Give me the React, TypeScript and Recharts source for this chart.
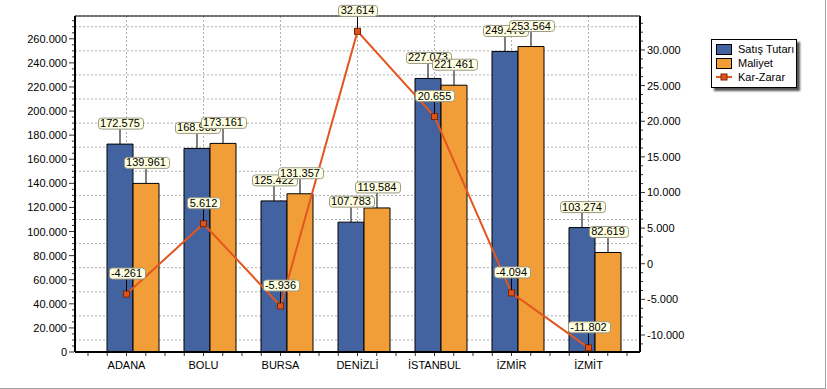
import React from 'react';
import {
  ComposedChart,
  Bar,
  Line,
  XAxis,
  YAxis,
  CartesianGrid,
  LabelList,
  ReferenceLine,
} from 'recharts';

// =============================================================================
// Data
// =============================================================================

const cities = ['ADANA', 'BOLU', 'BURSA', 'DENİZLİ', 'İSTANBUL', 'İZMİR', 'İZMİT'];
const satisTutari = [172575, 168988, 125422, 107783, 227073, 249478, 103274];
const maliyet = [139961, 173161, 131357, 119584, 221461, 253564, 82619];
const karZarar = [-4261, 5612, -5936, 32614, 20655, -4094, -11802];

const leftTicks = [
  0, 20000, 40000, 60000, 80000, 100000, 120000, 140000,
  160000, 180000, 200000, 220000, 240000, 260000,
];
const rightTicks = [-10000, -5000, 0, 5000, 10000, 15000, 20000, 25000, 30000];

const LEFT_DOMAIN: [number, number] = [0, 278920];
const RIGHT_DOMAIN: [number, number] = [-12390, 34770];

const SERIES = [
  { key: 'satis', name: 'Satış Tutarı', color: '#42639f', type: 'bar' },
  { key: 'maliyet', name: 'Maliyet', color: '#f19e38', type: 'bar' },
  { key: 'kar', name: 'Kar-Zarar', color: '#e4561f', type: 'line' },
];

const data = cities.map((city, i) => ({
  city,
  satis: satisTutari[i],
  maliyet: maliyet[i],
  kar: karZarar[i],
}));

// =============================================================================
// Helpers
// =============================================================================

const FONT = '"Liberation Sans", Arial, sans-serif';
const BAND = 77;

const steps = (from: number, to: number, step: number) => {
  const out: number[] = [];
  for (let v = from; v <= to; v += step) out.push(v);
  return out;
};

// minor ticks: 4 per labelled interval on both value axes
const leftMinor = steps(0, 275000, 5000);
const rightMinor = steps(-11250, 33750, 1250);
const gridValues = leftTicks.flatMap((v) => [v, v + 10000]);

const fmt = (v: number) => {
  const s = String(Math.abs(v)).replace(/\B(?=(\d{3})+(?!\d))/g, '.');
  return v < 0 ? '-' + s : s;
};

const textWidth = (s: string) =>
  [...s].reduce((w, c) => w + (c === '.' ? 3.06 : c === '-' ? 3.66 : 6.12), 0);

function Callout({ cx, anchor, lead, value }: any) {
  const text = fmt(value);
  const w = Math.round(textWidth(text) + 5);
  const bx = Math.round(cx - w / 2) + 0.5;
  const bottom = anchor - 15;
  return (
    <g>
      <line x1={cx} x2={cx} y1={anchor - lead} y2={bottom} stroke="#000" />
      <rect x={bx} y={bottom - 11} width={w} height={11} rx={3} fill="#ffffe1" stroke="#9c9a86" />
      <text x={cx} y={bottom - 2} textAnchor="middle" fontSize={11} fontFamily={FONT} fill="#000">
        {text}
      </text>
    </g>
  );
}

const LeftTick = ({ x, y, payload }: any) => {
  const major = payload.value % 20000 === 0;
  return (
    <g>
      <line x1={x - (major ? 6 : 3)} x2={x - 1} y1={y} y2={y} stroke="#333" />
      {major && (
        <text x={x - 8} y={y + 4} textAnchor="end" fontSize={11} fontFamily={FONT} fill="#000">
          {fmt(payload.value)}
        </text>
      )}
    </g>
  );
};

const RightTick = ({ x, y, payload }: any) => {
  const major = payload.value % 5000 === 0;
  return (
    <g>
      <line x1={x + 1} x2={x + (major ? 5 : 3)} y1={y} y2={y} stroke="#333" />
      {major && (
        <text x={x + 7} y={y + 4} textAnchor="start" fontSize={11} fontFamily={FONT} fill="#000">
          {fmt(payload.value)}
        </text>
      )}
    </g>
  );
};

const BottomTick = ({ x, y, payload, index }: any) => {
  const q = BAND / 4;
  const marks = [-2 * q, -q, 0, q];
  if (index === cities.length - 1) marks.push(2 * q);
  return (
    <g>
      {marks.map((m) => (
        <line key={m} x1={x + m} x2={x + m} y1={y + 1} y2={y + 4} stroke="#333" />
      ))}
      <text x={x} y={y + 17} textAnchor="middle" fontSize={11} fontFamily={FONT} fill="#000">
        {payload.value}
      </text>
    </g>
  );
};

const SquareDot = ({ cx, cy, index }: any) => (
  <rect key={`dot-${index}`} x={cx - 3} y={cy - 3} width={6} height={6} fill="#e2531c" stroke="#7a2808" />
);

// =============================================================================
// Legend
// =============================================================================

function ChartLegend() {
  return (
    <div
      style={{
        position: 'absolute',
        left: 711,
        top: 39,
        width: 84,
        height: 45,
        border: '1px solid #000',
        background: '#fff',
        boxShadow: '3px 3px 2px #555',
        fontFamily: FONT,
        fontSize: 11,
        paddingTop: 2,
        boxSizing: 'content-box',
      }}
    >
      {SERIES.map((s) => (
        <div key={s.key} style={{ display: 'flex', alignItems: 'center', height: 14 }}>
          {s.type === 'bar' ? (
            <div
              style={{
                marginLeft: 4,
                width: 14,
                height: 9,
                background: s.color,
                border: '1px solid #000',
              }}
            />
          ) : (
            <svg width={16} height={10} style={{ marginLeft: 4 }}>
              <line x1={0} x2={16} y1={5} y2={5} stroke={s.color} strokeWidth={2} />
              <rect x={5} y={2} width={6} height={6} fill="#e2531c" stroke="#7a2808" />
            </svg>
          )}
          <span style={{ marginLeft: 6, whiteSpace: 'nowrap' }}>{s.name}</span>
        </div>
      ))}
    </div>
  );
}

// =============================================================================
// Component
// =============================================================================

export default function App() {
  return (
    <div
      style={{
        position: 'absolute',
        left: 0,
        top: 0,
        width: 825,
        height: 388,
        borderRight: '1px solid #a0a0a0',
        borderBottom: '1px solid #a0a0a0',
        background: '#fff',
      }}
    >
      <ComposedChart
        width={825}
        height={388}
        data={data}
        margin={{ top: 16, right: 125, bottom: 16, left: 0 }}
        barGap={0}
      >
        <XAxis
          xAxisId="line"
          dataKey="city"
          height={20}
          padding={{ left: 13, right: 13 }}
          tickSize={0}
          tickMargin={0}
          tickLine={false}
          axisLine={{ stroke: '#000', strokeWidth: 2 }}
          tick={<BottomTick />}
          interval={0}
        />
        <XAxis xAxisId="bar" dataKey="city" hide height={0} padding={{ left: 19, right: 7 }} />
        <YAxis
          yAxisId="left"
          width={75}
          domain={LEFT_DOMAIN}
          ticks={leftMinor}
          allowDataOverflow
          interval={0}
          tickSize={0}
          tickMargin={0}
          tickLine={false}
          axisLine={{ stroke: '#000', strokeWidth: 2 }}
          tick={<LeftTick />}
        />
        <YAxis yAxisId="grid" hide width={0} domain={LEFT_DOMAIN} ticks={gridValues} allowDataOverflow />
        <YAxis
          yAxisId="right"
          orientation="right"
          width={60}
          domain={RIGHT_DOMAIN}
          ticks={rightMinor}
          allowDataOverflow
          interval={0}
          tickSize={0}
          tickMargin={0}
          tickLine={false}
          axisLine={{ stroke: '#000', strokeWidth: 2 }}
          tick={<RightTick />}
        />
        <CartesianGrid xAxisId="line" yAxisId="grid" stroke="#b0b0b0" strokeDasharray="2 2" />
        <ReferenceLine yAxisId="left" y={LEFT_DOMAIN[1]} stroke="#000" />

        <Bar
          xAxisId="bar"
          yAxisId="left"
          dataKey="satis"
          name={SERIES[0].name}
          fill={SERIES[0].color}
          stroke="#000"
          barSize={26}
          isAnimationActive={false}
        >
          <LabelList
            dataKey="satis"
            content={(p: any) => <Callout cx={p.x + p.width / 2} anchor={p.y} lead={0} value={p.value} />}
          />
        </Bar>
        <Bar
          xAxisId="bar"
          yAxisId="left"
          dataKey="maliyet"
          name={SERIES[1].name}
          fill={SERIES[1].color}
          stroke="#000"
          barSize={26}
          isAnimationActive={false}
        >
          <LabelList
            dataKey="maliyet"
            content={(p: any) => <Callout cx={p.x + p.width / 2} anchor={p.y} lead={0} value={p.value} />}
          />
        </Bar>
        <Line
          xAxisId="line"
          yAxisId="right"
          type="linear"
          dataKey="kar"
          name={SERIES[2].name}
          stroke={SERIES[2].color}
          strokeWidth={2}
          dot={<SquareDot />}
          activeDot={false}
          isAnimationActive={false}
        >
          <LabelList
            dataKey="kar"
            content={(p: any) => <Callout cx={p.x} anchor={p.y} lead={3} value={p.value} />}
          />
        </Line>
      </ComposedChart>
      <ChartLegend />
    </div>
  );
}
